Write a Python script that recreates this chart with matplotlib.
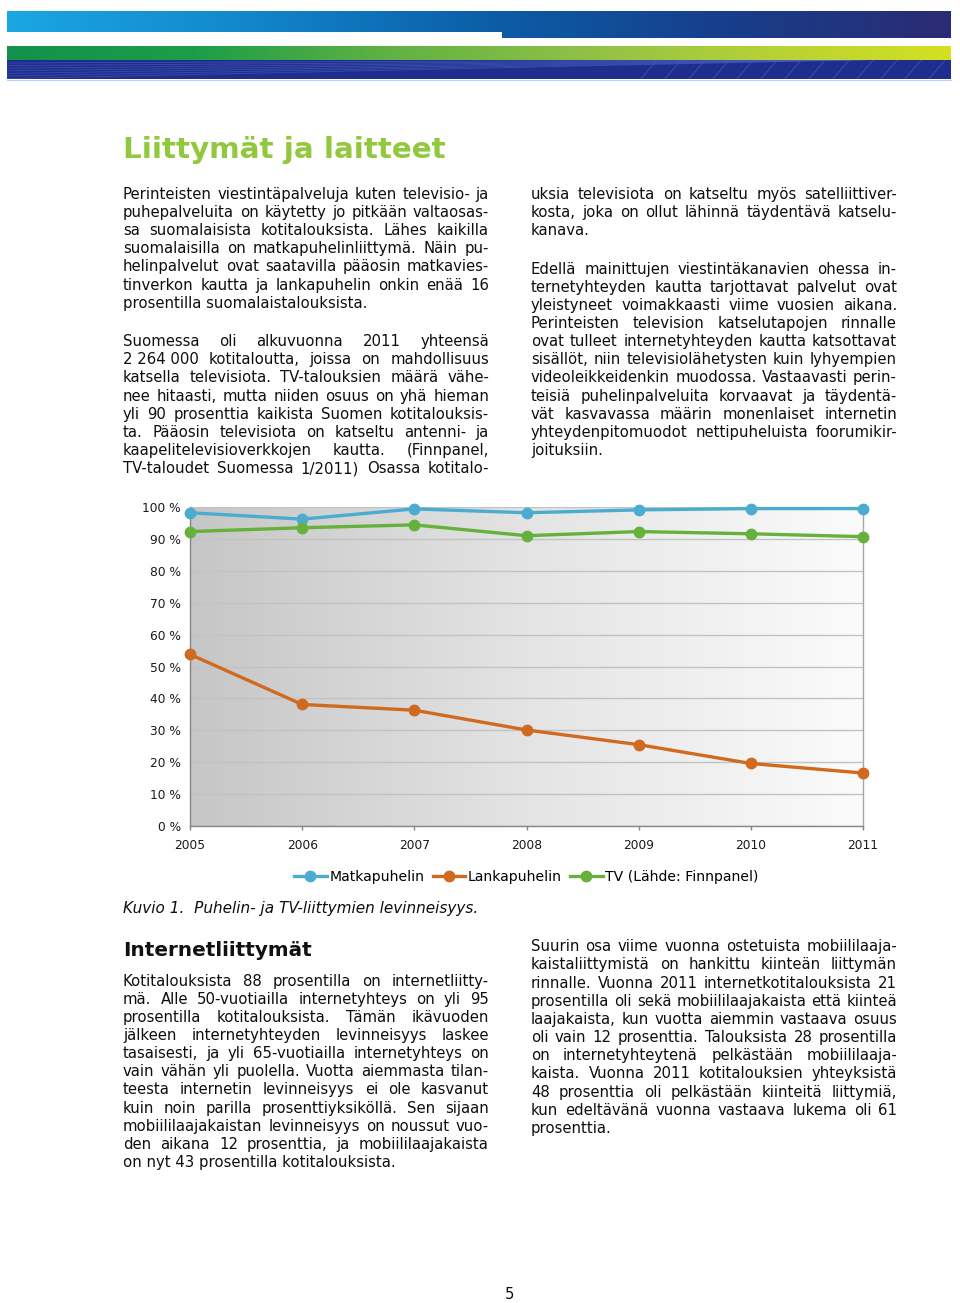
import numpy as np
import matplotlib
matplotlib.use('Agg')
import matplotlib.pyplot as plt
from matplotlib.colors import LinearSegmentedColormap
from matplotlib.patches import Rectangle

# ---------------- data ----------------
years = [2005, 2006, 2007, 2008, 2009, 2010, 2011]
matkapuhelin = [98.2, 96.2, 99.4, 98.2, 99.1, 99.5, 99.5]
lankapuhelin = [53.8, 38.1, 36.3, 30.1, 25.5, 19.6, 16.6]
tv = [92.3, 93.5, 94.4, 91.0, 92.3, 91.6, 90.7]
series_names = ['Matkapuhelin', 'Lankapuhelin', 'TV (Lähde: Finnpanel)']
series_colors = ['#4aadcf', '#cf6a1f', '#66b13b']
yticks = [0, 10, 20, 30, 40, 50, 60, 70, 80, 90, 100]
ytick_labels = [f'{v} %' for v in yticks]

title = 'Liittymät ja laitteet'
heading2 = 'Internetliittymät'
caption = 'Kuvio 1.  Puhelin- ja TV-liittymien levinneisyys.'
page_no = '5'

# (text, justified?)
left_col1 = [
    ('Perinteisten viestintäpalveluja kuten televisio- ja', True),
    ('puhepalveluita on käytetty jo pitkään valtaosas-', True),
    ('sa suomalaisista kotitalouksista.  Lähes kaikilla', True),
    ('suomalaisilla on matkapuhelinliittymä. Näin pu-', True),
    ('helinpalvelut ovat saatavilla pääosin matkavies-', True),
    ('tinverkon kautta ja lankapuhelin onkin enää 16', True),
    ('prosentilla suomalaistalouksista.', False),
]
left_col1_y = [194, 212, 230, 248, 266, 285, 303]
left_col2 = [
    ('Suomessa oli alkuvuonna 2011 yhteensä', True),
    ('2\u00a0264\u00a0000 kotitaloutta, joissa on mahdollisuus', True),
    ('katsella televisiota. TV-talouksien määrä vähe-', True),
    ('nee hitaasti, mutta niiden osuus on yhä hieman', True),
    ('yli 90 prosenttia kaikista Suomen kotitalouksis-', True),
    ('ta. Pääosin televisiota on katseltu antenni- ja', True),
    ('kaapelitelevisioverkkojen kautta. (Finnpanel,', True),
    ('TV-taloudet Suomessa 1/2011) Osassa kotitalo-', True),
]
left_col2_y = [341, 359, 377, 396, 414, 432, 450, 468]
right_col1 = [
    ('uksia televisiota on katseltu myös satelliittiver-', True),
    ('kosta, joka on ollut lähinnä täydentävä katselu-', True),
    ('kanava.', False),
    ('Edellä mainittujen viestintäkanavien ohessa in-', True),
    ('ternetyhteyden kautta tarjottavat palvelut ovat', True),
    ('yleistyneet voimakkaasti viime vuosien aikana.', True),
    ('Perinteisten television katselutapojen rinnalle', True),
    ('ovat tulleet internetyhteyden kautta katsottavat', True),
    ('sisällöt, niin televisiolähetysten kuin lyhyempien', True),
    ('videoleikkeidenkin muodossa. Vastaavasti perin-', True),
    ('teisiä puhelinpalveluita korvaavat ja täydentä-', True),
    ('vät kasvavassa määrin monenlaiset internetin', True),
    ('yhteydenpitomuodot nettipuheluista foorumikir-', True),
    ('joituksiin.', False),
]
right_col1_y = [194, 212, 230, 269, 287, 305, 323, 341, 359, 377, 396, 414, 432, 450]
left_col3 = [
    ('Kotitalouksista 88 prosentilla on internetliitty-', True),
    ('mä. Alle 50-vuotiailla internetyhteys on yli 95', True),
    ('prosentilla kotitalouksista. Tämän ikävuoden', True),
    ('jälkeen internetyhteyden levinneisyys laskee', True),
    ('tasaisesti, ja yli 65-vuotiailla internetyhteys on', True),
    ('vain vähän yli puolella. Vuotta aiemmasta tilan-', True),
    ('teesta internetin levinneisyys ei ole kasvanut', True),
    ('kuin noin parilla prosenttiyksiköllä. Sen sijaan', True),
    ('mobiililaajakaistan levinneisyys on noussut vuo-', True),
    ('den aikana 12 prosenttia, ja mobiililaajakaista', True),
    ('on nyt 43 prosentilla kotitalouksista.', False),
]
left_col3_y = [981, 999, 1017, 1035, 1053, 1071, 1089, 1108, 1126, 1144, 1162]
right_col3 = [
    ('Suurin osa viime vuonna ostetuista mobiililaaja-', True),
    ('kaistaliittymistä on hankittu kiinteän liittymän', True),
    ('rinnalle. Vuonna 2011 internetkotitalouksista 21', True),
    ('prosentilla oli sekä mobiililaajakaista että kiinteä', True),
    ('laajakaista, kun vuotta aiemmin vastaava osuus', True),
    ('oli vain 12 prosenttia. Talouksista 28 prosentilla', True),
    ('on internetyhteytenä pelkästään mobiililaaja-', True),
    ('kaista. Vuonna 2011 kotitalouksien yhteyksistä', True),
    ('48 prosenttia oli pelkästään kiinteitä liittymiä,', True),
    ('kun edeltävänä vuonna vastaava lukema oli 61', True),
    ('prosenttia.', False),
]
right_col3_y = [946, 964, 983, 1001, 1019, 1037, 1055, 1073, 1092, 1110, 1128]

# ---------------- figure ----------------
W, H = 960, 1303
fig = plt.figure(figsize=(W / 100, H / 100), dpi=100)
fig.patch.set_facecolor('white')
plt.rcParams['font.family'] = ['DejaVu Sans']

bg = fig.add_axes([0, 0, 1, 1])
bg.set_zorder(0)
bg.axis('off')


def hgrad(x0, x1, y0, y1, colors, z=1):
    cmap = LinearSegmentedColormap.from_list('g', colors)
    bg.imshow(np.linspace(0, 1, 512)[None, :], extent=[x0, x1, y1, y0], cmap=cmap,
              aspect='auto', interpolation='bilinear', zorder=z)


# header bars
hgrad(7, 951, 12, 38.5, ['#1ba6e4', '#1287cc', '#0b5fa9', '#163f8c', '#2b2b74'])
bg.add_patch(Rectangle((6, 31.5), 496, 8, facecolor='white', edgecolor='none', zorder=2))
hgrad(7, 951, 46, 60, ['#14914b', '#1c9e48', '#5fb143', '#8dc046', '#b5d038', '#d4e120'])
bg.add_patch(Rectangle((7, 60), 944, 19, facecolor='#1f2e8c', edgecolor='none', zorder=1))
band = Rectangle((7, 60), 944, 19, transform=bg.transData, facecolor='none', edgecolor='none')
bg.add_patch(band)
xs = np.linspace(7, 951, 300)
for i in range(7):
    yl = 63 + i * 2.6 + (xs - 7) * (0.004 + 0.003 * i) * -1
    ln, = bg.plot(xs, yl, color='#4a62c0', lw=0.6, alpha=0.6, zorder=2)
    ln.set_clip_path(band)
for i in range(14):
    x0 = 640 + i * 24
    ln, = bg.plot([x0, x0 + 18], [80, 59], color='#4a62c0', lw=0.6, alpha=0.7, zorder=2)
    ln.set_clip_path(band)
bg.plot([7, 951], [79.5, 79.5], color='#b8d4ee', lw=0.8, zorder=2)

bg.set_xlim(0, W)
bg.set_ylim(H, 0)

renderer = fig.canvas.get_renderer()


def text_w(s, size, **kw):
    t = bg.text(0, 0, s, fontsize=size, **kw)
    w = t.get_window_extent(renderer).width
    t.remove()
    return w


def fit_size(s, target, **kw):
    return 10 * target / text_w(s, 10, **kw)


BODY_COLOR = '#0e0e0e'
cols = [
    (left_col1, left_col1_y, 123, 489),
    (left_col2, left_col2_y, 123, 489),
    (right_col1, right_col1_y, 531, 897),
    (left_col3, left_col3_y, 123, 489),
    (right_col3, right_col3_y, 531, 897),
]

# body font size: tightest justified line fits exactly
space10 = text_w('a a', 10) - text_w('aa', 10)
ratios = []
for lines, ys, x0, x1 in cols:
    for s, just in lines:
        if just:
            words = [w for w in s.split(' ') if w]
            nat = sum(text_w(w, 10) for w in words) + (len(words) - 1) * space10
            ratios.append((x1 - x0) / nat)
body_fs = 10 * min(ratios)


def draw_line(s, x0, x1, yb, just, size):
    words = [w for w in s.split(' ') if w]
    if not just or len(words) == 1:
        bg.text(x0, yb, s.replace('  ', ' '), fontsize=size, color=BODY_COLOR, va='baseline', ha='left', zorder=3)
        return
    widths = [text_w(w, size) for w in words]
    gap = (x1 - x0 - sum(widths)) / (len(words) - 1)
    x = x0
    for w, wd in zip(words, widths):
        bg.text(x, yb, w, fontsize=size, color=BODY_COLOR, va='baseline', ha='left', zorder=3)
        x += wd + gap


for lines, ys, x0, x1 in cols:
    for (s, just), y in zip(lines, ys):
        draw_line(s, x0, x1, y + 5, just, body_fs)

# headings & captions
fs_t = fit_size(title, 323, fontweight='bold')
bg.text(123, 158, title, fontsize=fs_t, fontweight='bold', color='#92c83e', va='baseline', ha='left', zorder=3)
fs_h = fit_size(heading2, 188, fontweight='bold')
bg.text(123, 956, heading2, fontsize=fs_h, fontweight='bold', color='#111111', va='baseline', ha='left', zorder=3)
fs_c = fit_size(caption, 354, fontstyle='italic')
bg.text(123, 913, caption, fontsize=fs_c, fontstyle='italic', color=BODY_COLOR, va='baseline', ha='left', zorder=3)
bg.text(510, 1299, page_no, fontsize=body_fs, color=BODY_COLOR, va='baseline', ha='center', zorder=3)

# ---------------- chart ----------------
L, R, T, B = 190, 863, 507, 826
ax = fig.add_axes([L / W, 1 - B / H, (R - L) / W, (B - T) / H])
ax.set_zorder(2)
ax.patch.set_alpha(0)
grad = LinearSegmentedColormap.from_list('bgc', ['#c6c6c6', '#e4e4e4', '#fbfbfb'])
ax.imshow(np.linspace(0, 1, 256)[None, :], extent=[0, 1, 0, 1], transform=ax.transAxes,
          cmap=grad, aspect='auto', interpolation='bilinear', zorder=-2)

for vals, name, col in zip([matkapuhelin, lankapuhelin, tv], series_names, series_colors):
    ax.plot(years, vals, color=col, lw=2.4, marker='o', markersize=7.5, label=name,
            clip_on=False, zorder=3)

ax.set_xlim(years[0], years[-1])
ax.set_ylim(0, 100)
ax.set_yticks(yticks)
ax.set_yticklabels(ytick_labels)
ax.set_xticks(years)
ax.set_xticklabels([str(y) for y in years])
ax.yaxis.grid(True, color='#c2c2c2', lw=1.0, zorder=0)
ax.set_axisbelow(True)
for sp in ['left', 'bottom']:
    ax.spines[sp].set_color('#858585')
    ax.spines[sp].set_linewidth(1.0)
ax.spines['right'].set_color('#a8a8a8')
ax.spines['right'].set_linewidth(1.0)
ax.spines['top'].set_visible(False)
tick_fs = fit_size('2005', 31)
ax.tick_params(axis='y', length=0, pad=6.5, labelsize=tick_fs, labelcolor='#1a1a1a')
ax.tick_params(axis='x', length=3, width=1, color='#858585', pad=6.5, labelsize=tick_fs, labelcolor='#1a1a1a')

leg_fs = fit_size('Matkapuhelin', 95)
ax.legend(loc='center', bbox_to_anchor=(((L + R) / 2) / W, 1 - 877 / H), bbox_transform=fig.transFigure,
          ncol=3, frameon=False, fontsize=leg_fs, handlelength=2.3, handletextpad=0.2,
          columnspacing=0.6, borderaxespad=0)

fig.savefig('out.png', dpi=100)
